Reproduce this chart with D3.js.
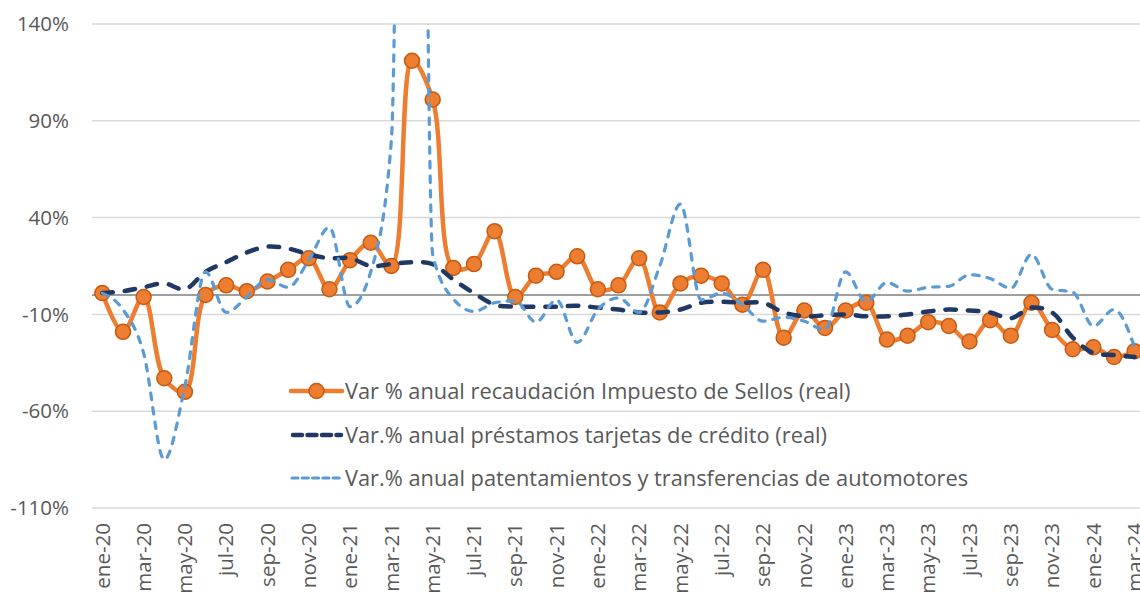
<!DOCTYPE html>
<html>
<head>
    <meta charset="utf-8">
    <title>Impuesto de Sellos</title>
    <script src="https://d3js.org/d3.v7.min.js"></script>
    <style>
        body {
            margin: 0;
            background: #fff;
            font-family: "Open Sans", sans-serif;
        }
        .tick-label {
            fill: #595959;
            font-size: 20.5px;
        }
        .legend-label {
            fill: #595959;
            font-size: 21.8px;
        }
    </style>
</head>
<body>
    <div id="chart"></div>
    <script>
        // Months (category axis)
        const months = [
            "ene-20", "feb-20", "mar-20", "abr-20", "may-20", "jun-20", "jul-20", "ago-20", "sep-20", "oct-20", "nov-20", "dic-20",
            "ene-21", "feb-21", "mar-21", "abr-21", "may-21", "jun-21", "jul-21", "ago-21", "sep-21", "oct-21", "nov-21", "dic-21",
            "ene-22", "feb-22", "mar-22", "abr-22", "may-22", "jun-22", "jul-22", "ago-22", "sep-22", "oct-22", "nov-22", "dic-22",
            "ene-23", "feb-23", "mar-23", "abr-23", "may-23", "jun-23", "jul-23", "ago-23", "sep-23", "oct-23", "nov-23", "dic-23",
            "ene-24", "feb-24", "mar-24"
        ];

        // Var % anual recaudación Impuesto de Sellos (real)
        const sellos = [1, -19, -1, -43, -50, 0, 5, 2, 7, 13, 19, 3,
            18, 27, 15, 121, 101, 14, 16, 33, -1, 10, 12, 20,
            3, 5, 19, -9, 6, 10, 6, -5, 13, -22, -8, -17,
            -8, -4, -23, -21, -14, -16, -24, -13, -21, -4, -18, -28,
            -27, -32, -29];

        // Var.% anual préstamos tarjetas de crédito (real)
        const tarjetas = [1, 2, 4, 6, 3, 12, 17, 22, 25, 24, 21, 19,
            19, 15, 16, 17, 16, 8, 1, -5, -6, -6, -6, -5.5,
            -6.5, -7.5, -9, -9, -7.5, -4, -3.5, -4, -4, -9, -11, -10.5,
            -10, -11, -11, -10, -8.5, -7.5, -8, -9, -12, -6.5, -9, -22,
            -30, -31, -32];

        // Var.% anual patentamientos y transferencias de automotores (abr-21 peak is clipped in the original)
        const automotores = [1, -7.5, -30, -85, -47, 12, -9, -1, 8, 4, 18, 35,
            -6, 12, 80, 900, 21, -2, -8.5, -4, -3, -14, -2.5, -24.5,
            -7.5, -1.5, -9, 15, 47, -2.5, 1, -5, -13.5, -11.5, -13.5, -18,
            12, -3.5, 6.5, 2, 4, 4.5, 10.5, 8.5, 3.5, 21, 3, 1.5,
            -16, -7.5, -27];

        const yTicks = [-110, -60, -10, 40, 90, 140];

        const seriesNames = [
            "Var % anual recaudación Impuesto de Sellos (real)",
            "Var.% anual préstamos tarjetas de crédito (real)",
            "Var.% anual patentamientos y transferencias de automotores"
        ];

        const width = 1140, height = 592;
        const plot = { left: 92, right: 1145, top: 24, bottom: 508 };

        const svg = d3.select("#chart")
            .append("svg")
            .attr("width", width)
            .attr("height", height);

        const x = d3.scalePoint()
            .domain(months)
            .range([plot.left, plot.right])
            .padding(0.5);

        const y = d3.scaleLinear()
            .domain([-110, 140])
            .range([plot.bottom, plot.top]);

        // gridlines
        svg.append("g")
            .selectAll("line")
            .data(yTicks)
            .enter()
            .append("line")
            .attr("x1", plot.left)
            .attr("x2", width)
            .attr("y1", d => y(d))
            .attr("y2", d => y(d))
            .attr("stroke", "#d9d9d9")
            .attr("stroke-width", 1.5);

        // zero line
        svg.append("line")
            .attr("x1", plot.left)
            .attr("x2", width)
            .attr("y1", y(0))
            .attr("y2", y(0))
            .attr("stroke", "#7f7f7f")
            .attr("stroke-width", 1.5);

        // y labels
        svg.append("g")
            .selectAll("text")
            .data(yTicks)
            .enter()
            .append("text")
            .attr("class", "tick-label")
            .attr("x", 69)
            .attr("y", d => y(d))
            .attr("dy", "0.35em")
            .attr("text-anchor", "end")
            .text(d => d + "%");

        // x labels, every second month (bottom gets cut by the frame, as in the original)
        svg.append("g")
            .selectAll("text")
            .data(months.filter((m, i) => i % 2 === 0))
            .enter()
            .append("text")
            .attr("class", "tick-label")
            .attr("transform", d => `translate(${x(d)},523) rotate(-90)`)
            .attr("dy", "0.35em")
            .attr("text-anchor", "end")
            .text(d => d);

        svg.append("clipPath")
            .attr("id", "plot-clip")
            .append("rect")
            .attr("x", plot.left)
            .attr("y", plot.top)
            .attr("width", plot.right - plot.left)
            .attr("height", plot.bottom - plot.top);

        const g = svg.append("g").attr("clip-path", "url(#plot-clip)");

        const line = d3.line()
            .x((d, i) => x(months[i]))
            .y(d => y(d))
            .curve(d3.curveCatmullRom.alpha(0.5));

        const lineMono = d3.line()
            .x((d, i) => x(months[i]))
            .y(d => y(d))
            .curve(d3.curveMonotoneX);

        // orange series with markers
        g.append("path")
            .datum(sellos)
            .attr("d", line)
            .attr("fill", "none")
            .attr("stroke", "#ed7d31")
            .attr("stroke-width", 4.5)
            .attr("stroke-linejoin", "round");

        g.append("g")
            .selectAll("circle")
            .data(sellos)
            .enter()
            .append("circle")
            .attr("cx", (d, i) => x(months[i]))
            .attr("cy", d => y(d))
            .attr("r", 7.5)
            .attr("fill", "#ed7d31")
            .attr("stroke", "#c55a11")
            .attr("stroke-width", 1.5);

        // navy long dash
        g.append("path")
            .datum(tarjetas)
            .attr("d", line)
            .attr("fill", "none")
            .attr("stroke", "#1f3864")
            .attr("stroke-width", 4.5)
            .attr("stroke-linecap", "round")
            .attr("stroke-dasharray", "10.5,12");

        // light blue dash
        g.append("path")
            .datum(automotores)
            .attr("d", lineMono)
            .attr("fill", "none")
            .attr("stroke", "#5b9bd5")
            .attr("stroke-width", 3.2)
            .attr("stroke-linecap", "round")
            .attr("stroke-dasharray", "6.5,8");

        // legend
        const legendRows = [391, 435, 478];
        const leg = svg.append("g");

        leg.append("line")
            .attr("x1", 291).attr("x2", 342)
            .attr("y1", legendRows[0]).attr("y2", legendRows[0])
            .attr("stroke", "#ed7d31")
            .attr("stroke-width", 4.5)
            .attr("stroke-linecap", "round");
        leg.append("circle")
            .attr("cx", 316.5).attr("cy", legendRows[0])
            .attr("r", 7.5)
            .attr("fill", "#ed7d31")
            .attr("stroke", "#c55a11")
            .attr("stroke-width", 1.5);

        leg.append("line")
            .attr("x1", 293).attr("x2", 341)
            .attr("y1", legendRows[1]).attr("y2", legendRows[1])
            .attr("stroke", "#1f3864")
            .attr("stroke-width", 4.5)
            .attr("stroke-linecap", "round")
            .attr("stroke-dasharray", "9,5.5");

        leg.append("line")
            .attr("x1", 292).attr("x2", 341)
            .attr("y1", legendRows[2]).attr("y2", legendRows[2])
            .attr("stroke", "#5b9bd5")
            .attr("stroke-width", 3.2)
            .attr("stroke-linecap", "round")
            .attr("stroke-dasharray", "6,4.3");

        leg.selectAll("text")
            .data(seriesNames)
            .enter()
            .append("text")
            .attr("class", "legend-label")
            .attr("x", 345)
            .attr("y", (d, i) => legendRows[i])
            .attr("dy", "0.35em")
            .text(d => d);
    </script>
</body>
</html>
